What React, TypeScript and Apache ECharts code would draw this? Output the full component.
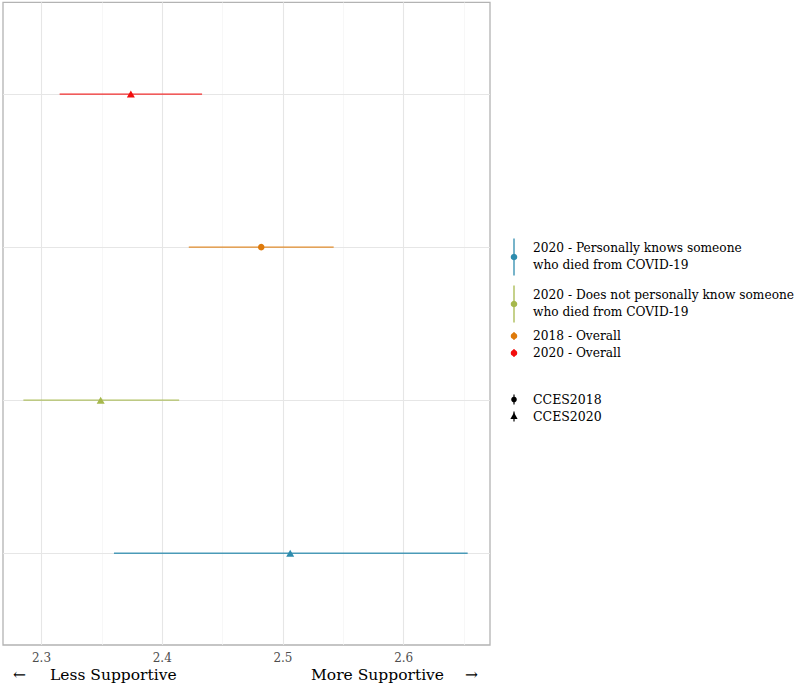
import React, { useEffect, useRef } from "react";
import * as echarts from "echarts";

// Rows from top to bottom
const groups = [
  "2020 - Overall",
  "2018 - Overall",
  "2020 - Does not personally know someone who died from COVID-19",
  "2020 - Personally knows someone who died from COVID-19",
];
const estimates = [2.374, 2.482, 2.349, 2.506];
const lowers = [2.315, 2.422, 2.285, 2.36];
const uppers = [2.433, 2.542, 2.414, 2.653];
const surveys = ["CCES2020", "CCES2018", "CCES2020", "CCES2020"];
const groupColors = ["#F20D0D", "#DE7A0B", "#A6B84C", "#2E8CAE"];

const xTicks = [2.3, 2.4, 2.5, 2.6];
const xMinorTicks = [2.35, 2.45, 2.55, 2.65];

const legendLabels = [
  "2020 - Personally knows someone\nwho died from COVID-19",
  "2020 - Does not personally know someone\nwho died from COVID-19",
  "2018 - Overall",
  "2020 - Overall",
];
const legendGroupIndex = [3, 2, 1, 0];
const surveyLegend = ["CCES2018", "CCES2020"];

const FONT = "DejaVu Serif";

export default function App() {
  const ref = useRef<HTMLDivElement>(null);
  useEffect(() => {
    if (!ref.current) return;
    const chart = echarts.init(ref.current, null, { renderer: "svg" });
    const rows = groups.map((_, i) => i + 1);

    const legendGraphics: any[] = [];
    const keyX = 514;
    const textX = 533;
    const legendCenters = [257, 304, 336, 353];
    const legendHalf = [18.5, 18.5, 4, 4];
    legendLabels.forEach((lab, k) => {
      const gi = legendGroupIndex[k];
      const c = groupColors[gi];
      const cy = legendCenters[k];
      const h = legendHalf[k];
      legendGraphics.push({
        type: "line",
        shape: { x1: keyX, y1: cy - h, x2: keyX, y2: cy + h },
        style: { stroke: c, lineWidth: 1.3 },
      });
      legendGraphics.push({
        type: "circle",
        shape: { cx: keyX, cy, r: 3.3 },
        style: { fill: c },
      });
      legendGraphics.push({
        type: "text",
        x: textX,
        y: cy - 0.5,
        style: {
          text: lab,
          fontFamily: FONT,
          fontSize: 12.2,
          fill: "#000",
          verticalAlign: "middle",
          lineHeight: 17,
        },
      });
    });
    const surveyCenters = [399.5, 416.5];
    surveyLegend.forEach((lab, k) => {
      const cy = surveyCenters[k];
      legendGraphics.push({
        type: "line",
        shape: { x1: keyX, y1: cy - 5, x2: keyX, y2: cy + 5 },
        style: { stroke: "#000", lineWidth: 1.2 },
      });
      if (k === 0) {
        legendGraphics.push({
          type: "circle",
          shape: { cx: keyX, cy, r: 2.8 },
          style: { fill: "#000" },
        });
      } else {
        legendGraphics.push({
          type: "polygon",
          shape: { points: [[keyX, cy - 4], [keyX - 3.6, cy + 2.5], [keyX + 3.6, cy + 2.5]] },
          style: { fill: "#000" },
        });
      }
      legendGraphics.push({
        type: "text",
        x: textX,
        y: cy - 0.5,
        style: { text: lab, fontFamily: FONT, fontSize: 12.5, fill: "#000", verticalAlign: "middle" },
      });
    });

    const tStyle = { fontFamily: FONT, fontSize: 15.5, fill: "#000", verticalAlign: "middle" };
    const titleGraphics = [
      { type: "text", x: 13, y: 675, style: { ...tStyle, text: "←" } },
      { type: "text", x: 50, y: 675, style: { ...tStyle, text: "Less Supportive" } },
      { type: "text", x: 311, y: 675, style: { ...tStyle, text: "More Supportive" } },
      { type: "text", x: 465, y: 675, style: { ...tStyle, text: "→" } },
    ];

    chart.setOption({
      animation: false,
      backgroundColor: "#fff",
      textStyle: { fontFamily: FONT },
      grid: {
        left: 3,
        right: 310,
        top: 2.3,
        bottom: 43,
        show: true,
        borderColor: "#b3b3b3",
        borderWidth: 1.3,
        backgroundColor: "transparent",
      },
      xAxis: {
        type: "value",
        min: 2.2681,
        max: 2.6715,
        axisLine: { show: false },
        axisTick: { show: false },
        splitLine: { show: false },
        axisLabel: {
          customValues: xTicks,
          color: "#4d4d4d",
          fontSize: 12,
          fontFamily: FONT,
          margin: 7,
          formatter: (v: number) => v.toFixed(1),
        },
      },
      yAxis: {
        type: "value",
        inverse: true,
        min: 0.4,
        max: 4.6,
        axisLine: { show: false },
        axisTick: { show: false },
        axisLabel: { show: false },
        splitLine: { show: false },
      },
      graphic: [...legendGraphics, ...titleGraphics],
      series: [
        {
          type: "scatter",
          z: 0,
          silent: true,
          data: [],
          markLine: {
            z: 0,
            silent: true,
            symbol: "none",
            label: { show: false },
            lineStyle: { color: "#f3f3f3", width: 0.7, type: "solid" },
            data: xMinorTicks.map((v) => ({ xAxis: v })),
          },
        },
        {
          type: "scatter",
          z: 0,
          silent: true,
          data: [],
          markLine: {
            z: 1,
            silent: true,
            symbol: "none",
            label: { show: false },
            lineStyle: { color: "#e6e6e6", width: 1.1, type: "solid" },
            data: [
              ...xTicks.map((v) => ({ xAxis: v })),
              ...rows.map((r) => ({ yAxis: r })),
            ],
          },
        },
        {
          type: "custom",
          z: 6,
          data: rows.map((r, i) => [r, lowers[i], uppers[i]]),
          encode: { x: [1, 2], y: 0 },
          renderItem: (params: any, api: any) => {
            const y = api.value(0);
            const lo = api.coord([api.value(1), y]);
            const hi = api.coord([api.value(2), y]);
            return {
              type: "line",
              shape: { x1: lo[0], y1: lo[1], x2: hi[0], y2: hi[1] },
              style: { stroke: groupColors[params.dataIndex], lineWidth: 1.4, opacity: 0.85 },
            };
          },
        },
        {
          type: "scatter",
          z: 7,
          data: rows.map((r, i) => ({
            value: [estimates[i], r],
            symbol: surveys[i] === "CCES2018" ? "circle" : "triangle",
            symbolSize: surveys[i] === "CCES2018" ? 6.5 : [8, 7],
            itemStyle: { color: groupColors[i], opacity: 1 },
          })),
        },
      ],
    });
    return () => chart.dispose();
  }, []);
  return <div ref={ref} style={{ width: 800, height: 688, position: "absolute", left: 0, top: 0 }} />;
}
